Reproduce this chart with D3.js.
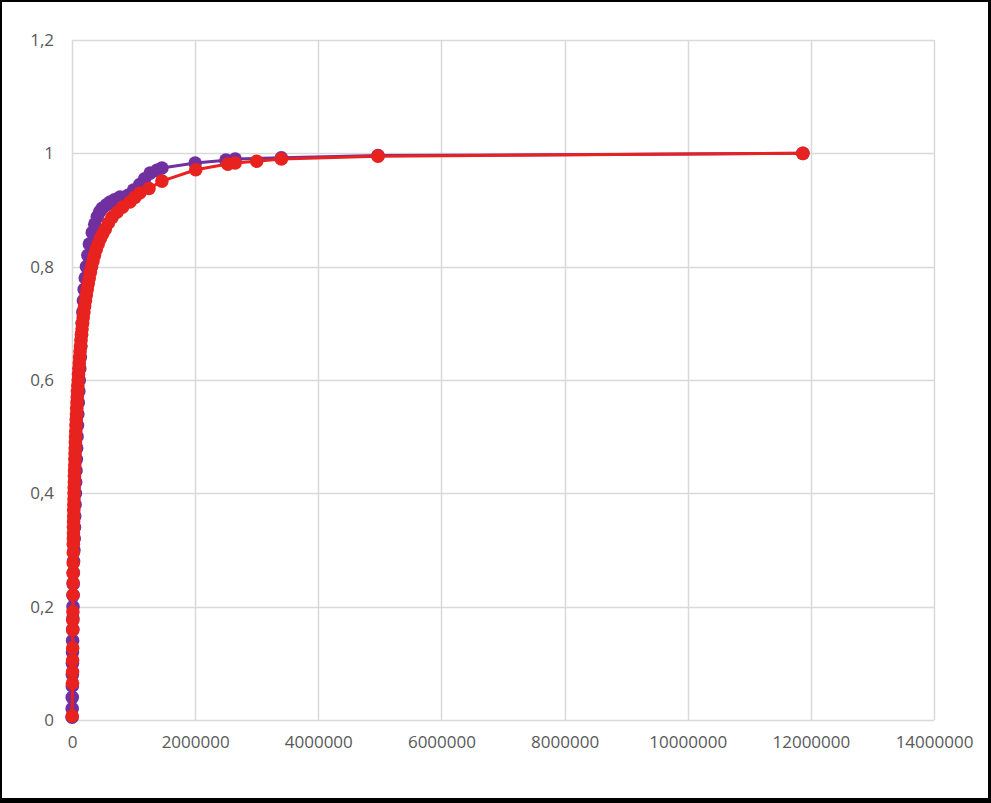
<!DOCTYPE html>
<html><head><meta charset="utf-8">
<script src="https://cdn.jsdelivr.net/npm/d3@7"></script>
<style>
html,body{margin:0;padding:0;background:#fff;}
svg{display:block;}
</style></head>
<body>
<svg id="chart" width="991" height="803"></svg>
<script>
const xTicks = [0, 2000000, 4000000, 6000000, 8000000, 10000000, 12000000, 14000000];
const yTicks = [0, 0.2, 0.4, 0.6, 0.8, 1, 1.2];
const yTickLabels = ["0", "0,2", "0,4", "0,6", "0,8", "1", "1,2"];

const purpleX = [2000,3000,4000,5000,6000,7000,8000,10000,12000,14000,
  16000,18000,20000,22000,25000,32000,36000,40000,45000,50000,
  55000,60000,65000,70000,76000,82000,88000,95000,102000,110000,
  118000,126000,135000,145000,155000,165000,175000,186000,198000,215000,
  235000,258000,282000,330000,370000,410000,450000,490000,560000,620000,
  690000,780000,910000,1000000,1100000,1180000,1270000,1380000,1460000,2000000,
  2500000,2650000,3400000,4970000,11870000];
const purpleY = [0.005,0.02,0.04,0.06,0.08,0.10,0.12,0.14,0.16,0.18,
  0.20,0.22,0.24,0.26,0.28,0.30,0.32,0.34,0.36,0.38,
  0.40,0.42,0.44,0.46,0.48,0.50,0.52,0.54,0.56,0.58,
  0.60,0.62,0.64,0.66,0.68,0.70,0.72,0.74,0.76,0.78,
  0.80,0.82,0.84,0.86,0.875,0.888,0.897,0.903,0.909,0.914,
  0.918,0.923,0.926,0.935,0.945,0.955,0.965,0.970,0.974,0.983,
  0.988,0.990,0.992,0.996,1.0];

const redX = [3000,8000,9000,10000,11000,13000,14000,15000,17000,18000,19000,20000,21000,22000,23000,24000,25000,26000,27000,28000,30000,32000,34000,36000,38000,40000,42000,45000,47000,50000,52000,55000,58000,61000,65000,69000,73000,77000,81000,85000,90000,95000,100000,106000,112000,118000,124000,131000,138000,146000,154000,163000,172000,182000,193000,205000,218000,232000,247000,263000,280000,298000,318000,340000,365000,392000,425000,462000,500000,540000,590000,650000,730000,820000,940000,1020000,1100000,1250000,1460000,2010000,2530000,2650000,3000000,3400000,4970000,11870000];
const redY = [0.007,0.065,0.085,0.106,0.127,0.159,0.176,0.191,0.221,0.242,0.259,0.277,0.295,0.31,0.32,0.33,0.34,0.35,0.36,0.37,0.38,0.39,0.40,0.41,0.42,0.43,0.44,0.45,0.46,0.47,0.48,0.49,0.50,0.51,0.52,0.53,0.54,0.55,0.56,0.57,0.58,0.59,0.60,0.61,0.62,0.63,0.64,0.65,0.66,0.67,0.68,0.69,0.70,0.71,0.72,0.73,0.74,0.75,0.76,0.77,0.78,0.79,0.80,0.81,0.82,0.83,0.84,0.85,0.858,0.866,0.877,0.887,0.896,0.905,0.914,0.922,0.930,0.938,0.951,0.971,0.981,0.983,0.986,0.990,0.995,1.0];

const seriesList = [
  {name: "purple", xs: purpleX, ys: purpleY, color: "#7030A0"},
  {name: "red", xs: redX, ys: redY, color: "#E8221F"}
];

const svg = d3.select("#chart");
const W = 991, H = 803;

svg.append("rect").attr("x", 0).attr("y", 0).attr("width", W).attr("height", H).attr("fill", "#000");
svg.append("rect").attr("x", 2).attr("y", 2).attr("width", 986).attr("height", 796).attr("fill", "#fff");

const x = d3.scaleLinear().domain([0, 14000000]).range([72, 934]);
const y = d3.scaleLinear().domain([0, 1.2]).range([720, 40]);

const grid = svg.append("g");
grid.selectAll("line.h").data(yTicks).enter().append("line")
  .attr("x1", x(0)).attr("x2", x(14000000))
  .attr("y1", d => Math.round(y(d)) + 0.5).attr("y2", d => Math.round(y(d)) + 0.5)
  .attr("stroke", "#D9D9D9").attr("stroke-width", 1.5);
grid.selectAll("line.v").data(xTicks).enter().append("line")
  .attr("y1", y(0)).attr("y2", y(1.2))
  .attr("x1", d => Math.round(x(d)) + 0.5).attr("x2", d => Math.round(x(d)) + 0.5)
  .attr("stroke", "#D9D9D9").attr("stroke-width", 1.5);

const font = "'Open Sans', 'Noto Sans', sans-serif";
const xAxis = d3.axisBottom(x).tickValues(xTicks).tickFormat(d3.format("d")).tickSize(0).tickPadding(16);
const gx = svg.append("g").attr("transform", `translate(0,${y(0)})`).call(xAxis);
gx.select(".domain").remove();
gx.selectAll("text").attr("fill", "#595959").style("font-family", font).style("font-size", "17px");

const yAxis = d3.axisLeft(y).tickValues(yTicks).tickFormat((d, i) => yTickLabels[i]).tickSize(0).tickPadding(18);
const gy = svg.append("g").attr("transform", `translate(${x(0)},0)`).call(yAxis);
gy.select(".domain").remove();
gy.selectAll("text").attr("fill", "#595959").style("font-family", font).style("font-size", "17px");

const line = d3.line().x(d => x(d[0])).y(d => y(d[1]));
seriesList.forEach(s => {
  const pts = s.xs.map((v, i) => [v, s.ys[i]]);
  const g = svg.append("g");
  g.append("path").datum(pts).attr("d", line).attr("fill", "none")
    .attr("stroke", s.color).attr("stroke-width", 3).attr("stroke-linejoin", "round");
  g.selectAll("circle").data(pts).enter().append("circle")
    .attr("cx", d => x(d[0])).attr("cy", d => y(d[1])).attr("r", 6.8)
    .attr("fill", s.color);
});
</script>
</body></html>
